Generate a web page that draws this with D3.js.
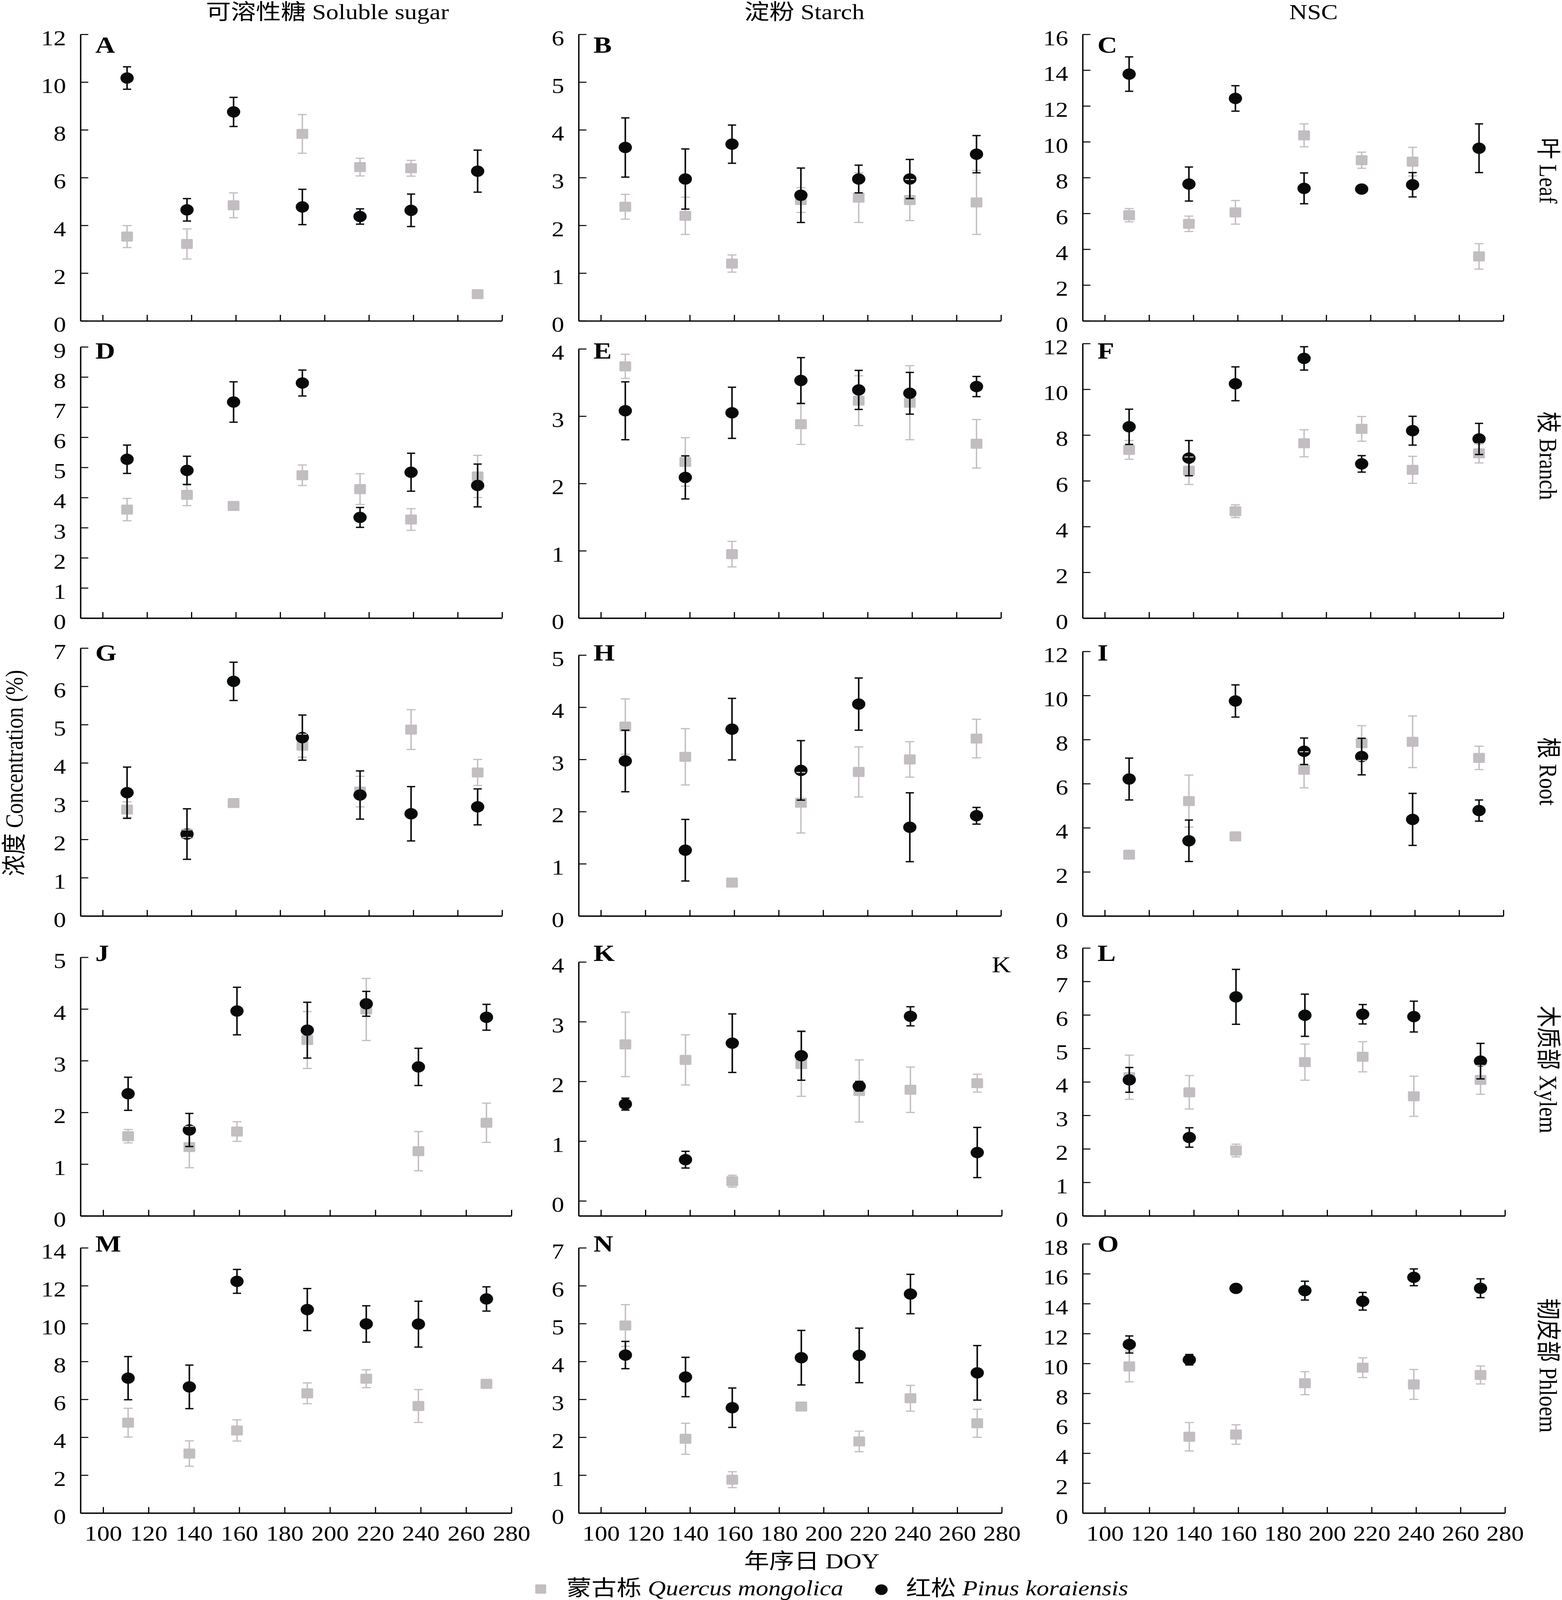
<!DOCTYPE html>
<html>
<head>
<meta charset="utf-8">
<script src="https://cdn.jsdelivr.net/npm/d3@7/dist/d3.min.js"></script>
<style>
  html, body { margin: 0; padding: 0; background: #fff; overflow: hidden; }
  svg { display: block; }
</style>
</head>
<body>
<script>
// ---------------- DATA ----------------
const doy = [111, 138, 159, 190, 216, 239, 269];
const xTicks = [100, 120, 140, 160, 180, 200, 220, 240, 260, 280];

const panelLetters = ["A","B","C","D","E","F","G","H","I","J","K","L","M","N","O"];
const columnTitles = ["可溶性糖 Soluble sugar", "淀粉 Starch", "NSC"];
const rowLabels = ["叶 Leaf", "枝 Branch", "根 Root", "木质部 Xylem", "韧皮部 Phloem"];
const yAxisTitle = "浓度 Concentration (%)";
const xAxisTitle = "年序日 DOY";
const legendNames = [["蒙古栎 ", "Quercus mongolica"], ["红松 ", "Pinus koraiensis"]];

// y-axis: minimum, maximum and tick step per panel (A..O)
const yMinValues = [0,0,0, 0,0,0, 0,0,0, 0,-0.25,0, 0,0,0];
const yMaxValues = [12,6,16, 9,4,12, 7,5,12, 5,4,8, 14,7,18];
const yStepValues = [2,1,2, 1,1,2, 1,1,2, 1,1,1, 2,1,2];

// 蒙古栎 Quercus mongolica (grey squares): means and SE per panel
const quercusMean = [
  [3.53, 3.22, 4.84, 7.83, 6.44, 6.39, 1.12],   // A
  [2.39, 2.20, 1.20, 2.53, 2.58, 2.53, 2.48],   // B
  [5.90, 5.42, 6.06, 10.36, 8.97, 8.89, 3.60],  // C
  [3.60, 4.09, 3.72, 4.74, 4.28, 3.27, 4.70],   // D
  [3.74, 2.32, 0.95, 2.88, 3.23, 3.20, 2.59],   // E
  [7.35, 6.44, 4.67, 7.64, 8.27, 6.48, 7.20],   // F
  [2.78, 2.15, 2.95, 4.45, 3.25, 4.87, 3.75],   // G
  [3.63, 3.05, 0.64, 2.17, 2.76, 3.00, 3.40],   // H
  [2.78, 5.21, 3.61, 6.63, 7.84, 7.90, 7.17],   // I
  [1.54, 1.33, 1.63, 3.40, 3.99, 1.25, 1.80],   // J
  [2.62, 2.36, 0.33, 2.29, 1.84, 1.86, 1.97],   // K
  [4.14, 3.69, 1.95, 4.59, 4.75, 3.57, 4.06],   // L
  [4.77, 3.14, 4.36, 6.32, 7.09, 5.65, 6.82],   // M
  [4.95, 1.96, 0.88, 2.81, 1.89, 3.03, 2.37],   // N
  [9.80, 5.10, 5.25, 8.68, 9.72, 8.60, 9.23]    // O
];
const quercusSE = [
  [0.46, 0.63, 0.52, 0.81, 0.37, 0.33, 0.05],
  [0.26, 0.39, 0.18, 0.26, 0.52, 0.43, 0.67],
  [0.37, 0.43, 0.66, 0.64, 0.45, 0.80, 0.71],
  [0.37, 0.36, 0.08, 0.34, 0.51, 0.36, 0.70],
  [0.18, 0.36, 0.19, 0.30, 0.37, 0.55, 0.36],
  [0.41, 0.60, 0.28, 0.59, 0.54, 0.59, 0.42],
  [0.20, 0.10, 0.05, 0.30, 0.40, 0.52, 0.34],
  [0.53, 0.54, 0.05, 0.58, 0.48, 0.34, 0.37],
  [0.10, 1.18, 0.10, 0.82, 0.79, 1.17, 0.53],
  [0.13, 0.40, 0.19, 0.55, 0.60, 0.38, 0.38],
  [0.54, 0.42, 0.10, 0.54, 0.52, 0.38, 0.15],
  [0.66, 0.50, 0.19, 0.54, 0.45, 0.60, 0.43],
  [0.76, 0.67, 0.56, 0.55, 0.47, 0.87, 0.12],
  [0.55, 0.41, 0.21, 0.08, 0.27, 0.34, 0.37],
  [1.03, 0.95, 0.65, 0.77, 0.66, 1.00, 0.60]
];

// 红松 Pinus koraiensis (black circles): means and SE per panel
const pinusMean = [
  [10.17, 4.65, 8.75, 4.77, 4.37, 4.63, 6.27],
  [3.63, 2.97, 3.70, 2.63, 2.97, 2.97, 3.49],
  [13.78, 7.64, 12.42, 7.40, 7.36, 7.60, 9.64],
  [5.27, 4.90, 7.17, 7.80, 3.34, 4.84, 4.40],
  [3.08, 2.09, 3.05, 3.53, 3.39, 3.34, 3.44],
  [8.36, 6.99, 10.24, 11.35, 6.74, 8.19, 7.83],
  [3.22, 2.14, 6.13, 4.66, 3.16, 2.67, 2.85],
  [2.97, 1.26, 3.58, 2.79, 4.06, 1.70, 1.92],
  [6.21, 3.41, 9.75, 7.47, 7.23, 4.38, 4.78],
  [2.36, 1.66, 3.96, 3.59, 4.10, 2.88, 3.84],
  [1.62, 0.69, 2.64, 2.43, 1.92, 3.09, 0.81],
  [4.06, 2.34, 6.54, 5.99, 6.02, 5.95, 4.62],
  [7.12, 6.66, 12.23, 10.74, 9.98, 9.97, 11.30],
  [4.17, 3.59, 2.78, 4.10, 4.16, 5.78, 3.70],
  [11.27, 10.25, 15.02, 14.87, 14.16, 15.76, 15.03]
];
const pinusSE = [
  [0.47, 0.47, 0.61, 0.74, 0.32, 0.68, 0.88],
  [0.62, 0.63, 0.40, 0.57, 0.29, 0.41, 0.39],
  [0.96, 0.95, 0.71, 0.86, 0.15, 0.68, 1.36],
  [0.47, 0.47, 0.67, 0.43, 0.33, 0.63, 0.71],
  [0.43, 0.32, 0.38, 0.34, 0.29, 0.31, 0.15],
  [0.77, 0.77, 0.74, 0.51, 0.36, 0.63, 0.68],
  [0.67, 0.66, 0.50, 0.59, 0.63, 0.71, 0.47],
  [0.59, 0.59, 0.59, 0.57, 0.50, 0.66, 0.16],
  [0.95, 0.94, 0.73, 0.60, 0.83, 1.18, 0.48],
  [0.32, 0.32, 0.46, 0.54, 0.24, 0.36, 0.25],
  [0.10, 0.14, 0.49, 0.41, 0.08, 0.16, 0.42],
  [0.37, 0.29, 0.82, 0.63, 0.29, 0.46, 0.53],
  [1.14, 1.15, 0.63, 1.11, 0.96, 1.21, 0.64],
  [0.36, 0.52, 0.52, 0.72, 0.72, 0.52, 0.72],
  [0.57, 0.35, 0.20, 0.63, 0.59, 0.56, 0.63]
];

// ---------------- LAYOUT ----------------
const W = 3998, H = 4802;
const FONT = "'Liberation Serif','Times New Roman','Noto Sans CJK SC',serif";
const GREY = "#c1bdc1", BLACK = "#080a0b";
const FS = 64;

const colLeft = [206, 1481, 2771];
const panelRight = [1285, 2562, 3848, 1285, 2562, 3848, 1285, 2562, 3848, 1309, 2564, 3852, 1309, 2564, 3852];
const panelTop = [103, 103, 103, 1041, 1047, 1031, 1945, 1966, 1955, 2873, 2887, 2845, 3745, 3745, 3733];
const rowBottom = [963, 1855, 2749, 3649, 4541];
const letterBaseline = [158, 1076, 1982, 2884, 3756];
const colTitleX = [838, 2059, 3362];
const rowLabelY = [512, 1368, 2315, 3210, 4098];

// fit the whole figure into the actual viewport
const vw = window.innerWidth || W, vh = window.innerHeight || H;

const svg = d3.select("body").append("svg")
  .attr("width", vw).attr("height", vh)
  .attr("viewBox", `0 0 ${W} ${H}`)
  .attr("preserveAspectRatio", "none")
  .style("font-family", FONT);

svg.append("rect").attr("width", W).attr("height", H).attr("fill", "#fff");

panelLetters.forEach((letter, i) => {
  const row = Math.floor(i / 3), col = i % 3;
  const left = colLeft[col], right = panelRight[i];
  const top = panelTop[i], bottom = rowBottom[row];

  const x = d3.scaleLinear().domain([90, 280]).range([left, right]);
  const y = d3.scaleLinear().domain([yMinValues[i], yMaxValues[i]]).range([bottom, top]);

  const g = svg.append("g");

  const yt = d3.range(0, yMaxValues[i] + 1e-9, yStepValues[i]);
  const yAxis = d3.axisLeft(y).tickValues(yt).tickSizeInner(-20).tickSizeOuter(0)
    .tickPadding(37).tickFormat(d3.format("d"));
  const ya = g.append("g").attr("transform", `translate(${left},0)`).call(yAxis);
  ya.select(".domain").attr("stroke", "#000").attr("stroke-width", 3.5);
  ya.selectAll(".tick line").attr("stroke", "#000").attr("stroke-width", 3);
  ya.selectAll(".tick text").attr("font-size", FS).attr("font-family", FONT).attr("fill", "#000").attr("dy", "0.5em");

  const xAxis = d3.axisBottom(x).tickValues(xTicks).tickSizeInner(-18).tickSizeOuter(0).tickPadding(37);
  if (row < 4) xAxis.tickFormat(() => "");
  const xa = g.append("g").attr("transform", `translate(0,${bottom})`).call(xAxis);
  xa.select(".domain").attr("stroke", "#000").attr("stroke-width", 4);
  xa.selectAll(".tick line").attr("stroke", "#000").attr("stroke-width", 3);
  xa.selectAll(".tick text").attr("font-size", FS).attr("font-family", FONT).attr("fill", "#000");

  g.append("text").attr("x", left + 38).attr("y", letterBaseline[row])
    .attr("font-size", 70).attr("font-weight", "bold").attr("font-family", FONT)
    .text(letter);

  const q = doy.map((d, k) => ({ d, v: quercusMean[i][k], se: quercusSE[i][k] }));
  const p = doy.map((d, k) => ({ d, v: pinusMean[i][k], se: pinusSE[i][k] }));

  g.selectAll(".qm").data(q).enter().append("rect")
    .attr("x", d => x(d.d) - 15).attr("y", d => y(d.v) - 15)
    .attr("width", 30).attr("height", 30).attr("rx", 3).attr("fill", GREY);
  g.selectAll(".pm").data(p).enter().append("circle")
    .attr("cx", d => x(d.d)).attr("cy", d => y(d.v)).attr("r", 17).attr("fill", BLACK);

  function bars(data, color, sw, cap) {
    const eb = g.append("g").attr("stroke", color).attr("stroke-width", sw).attr("fill", "none");
    data.forEach(d => {
      const cx = x(d.d), y1 = y(d.v + d.se), y2 = y(d.v - d.se);
      eb.append("line").attr("x1", cx).attr("x2", cx).attr("y1", y1).attr("y2", y2);
      eb.append("line").attr("x1", cx - cap).attr("x2", cx + cap).attr("y1", y1).attr("y2", y1);
      eb.append("line").attr("x1", cx - cap).attr("x2", cx + cap).attr("y1", y2).attr("y2", y2);
    });
  }
  bars(q, GREY, 3.5, 11.5);
  bars(p, BLACK, 4, 10.5);
});

svg.append("text").attr("x", 2563).attr("y", 2918).attr("text-anchor", "middle")
  .attr("font-size", 68).attr("font-family", FONT).text("K");

columnTitles.forEach((t, c) => {
  svg.append("text").attr("x", colTitleX[c]).attr("y", 57).attr("text-anchor", "middle")
    .attr("font-size", FS).attr("font-family", FONT).text(t);
});

rowLabels.forEach((t, r) => {
  svg.append("text")
    .attr("transform", `translate(3963,${rowLabelY[r]}) rotate(90)`)
    .attr("text-anchor", "middle").attr("dominant-baseline", "central")
    .attr("font-size", FS).attr("font-family", FONT).text(t);
});

svg.append("text")
  .attr("transform", `translate(36,2320) rotate(-90)`)
  .attr("text-anchor", "middle").attr("dominant-baseline", "central")
  .attr("font-size", FS).attr("font-family", FONT).text(yAxisTitle);

svg.append("text").attr("x", 2078).attr("y", 4707).attr("text-anchor", "middle")
  .attr("font-size", FS).attr("font-family", FONT).text(xAxisTitle);

svg.append("rect").attr("x", 1370).attr("y", 4755).attr("width", 28).attr("height", 28).attr("rx", 3).attr("fill", GREY);
const l1 = svg.append("text").attr("x", 1450).attr("y", 4788).attr("font-size", FS).attr("font-family", FONT);
l1.append("tspan").text(legendNames[0][0]);
l1.append("tspan").attr("font-style", "italic").text(legendNames[0][1]);
svg.append("circle").attr("cx", 2256).attr("cy", 4771).attr("r", 16).attr("fill", BLACK);
const l2 = svg.append("text").attr("x", 2319).attr("y", 4788).attr("font-size", FS).attr("font-family", FONT);
l2.append("tspan").text(legendNames[1][0]);
l2.append("tspan").attr("font-style", "italic").text(legendNames[1][1]);
</script>
</body>
</html>
